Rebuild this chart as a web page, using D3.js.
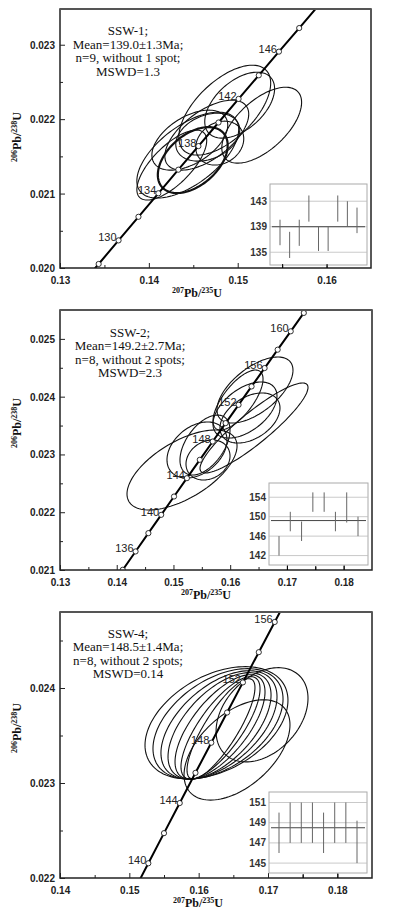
<!DOCTYPE html>
<html>
<head>
<meta charset="utf-8">
<script src="https://cdn.jsdelivr.net/npm/d3@7"></script>
<style>
  body { margin: 0; background: #fff; }
</style>
</head>
<body>
<svg id="chart" width="393" height="917"></svg>
<script>
// concordia points every 2 Ma (207Pb/235U, 206Pb/238U)
var concAges = [126,128,130,132,134,136,138,140,142,144,146,148,150,152,154,156,158,160,162,164];
var concX = [0.13212,0.13435,0.13659,0.13883,0.14107,0.14332,0.14558,0.14784,0.15010,0.15237,
             0.15464,0.15692,0.15920,0.16148,0.16377,0.16607,0.16837,0.17067,0.17298,0.17529];
var concY = [0.019738,0.020054,0.020371,0.020688,0.021004,0.021321,0.021638,0.021955,0.022272,0.022589,
             0.022907,0.023224,0.023542,0.023859,0.024177,0.024495,0.024813,0.025131,0.025449,0.025767];
// SSW-4 concordia as it sits against its own axes
var conc4Ages = [138,140,142,144,146,148,150,152,154,156,158];
var conc4X = [0.15048,0.15274,0.15500,0.15727,0.15954,0.16182,0.16410,0.16638,0.16867,0.17097,0.17327];
var conc4Y = [0.021838,0.022155,0.022472,0.022789,0.023107,0.023424,0.023742,0.024059,0.024377,0.024695,0.025013];

// labelled ages on the curve
var ageLabels1 = [130,134,138,142,146];
var ageLabels2 = [136,140,144,148,152,156,160];
var ageLabels4 = [140,144,148,152,156];

// axis ticks
var xTicks1 = [0.13,0.14,0.15,0.16], xMinor1 = [0.135,0.145,0.155];
var yTicks1 = [0.020,0.021,0.022,0.023], yMinor1 = [0.0205,0.0215,0.0225];
var xTicks2 = [0.13,0.14,0.15,0.16,0.17,0.18], xMinor2 = [0.135,0.145,0.155,0.165,0.175];
var yTicks2 = [0.021,0.022,0.023,0.024,0.025], yMinor2 = [0.0215,0.0225,0.0235,0.0245];
var xTicks4 = [0.14,0.15,0.16,0.17,0.18], xMinor4 = [0.145,0.155,0.165,0.175];
var yTicks4 = [0.022,0.023,0.024], yMinor4 = [0.0225,0.0235,0.0245];

// error ellipses: [x, y, sx, sy, rho]
var ell1 = [
  [0.14854,0.022121,0.00517,0.000604,0.60],
  [0.15022,0.022188,0.00393,0.000443,0.50],
  [0.15270,0.021919,0.00449,0.000510,0.60],
  [0.14438,0.021517,0.00573,0.000577,0.60],
  [0.14663,0.021758,0.00360,0.000322,0.30],
  [0.14798,0.021678,0.00270,0.000295,0.20],
  [0.14258,0.021383,0.00393,0.000470,0.70],
  [0.14652,0.021785,0.00472,0.000470,0.60],
  [0.14461,0.021718,0.00427,0.000403,0.50]
];
var ell1Bold = [[0.14494,0.021450,0.00393,0.000443,0.45]];
var ell2 = [
  [0.15151,0.022731,0.00970,0.000692,0.60],
  [0.15415,0.023077,0.00529,0.000485,0.35],
  [0.15556,0.023163,0.00441,0.000519,0.50],
  [0.15609,0.022904,0.00388,0.000346,0.20],
  [0.16437,0.024115,0.00670,0.000571,0.60],
  [0.16420,0.023458,0.00952,0.000779,0.90],
  [0.16261,0.023769,0.00564,0.000485,0.50],
  [0.16138,0.023942,0.00441,0.000519,0.70],
  [0.16349,0.023631,0.00529,0.000433,0.40]
];
var ell4 = [
  [0.16257,0.023634,0.01031,0.000591,0.40],
  [0.16279,0.023623,0.00938,0.000581,0.45],
  [0.16293,0.023612,0.00837,0.000570,0.52],
  [0.16301,0.023602,0.00743,0.000560,0.58],
  [0.16308,0.023591,0.00649,0.000549,0.67],
  [0.16315,0.023581,0.00570,0.000539,0.76],
  [0.16322,0.023570,0.00490,0.000528,0.82],
  [0.16914,0.023718,0.00663,0.000496,0.35],
  [0.16553,0.023348,0.00764,0.000528,0.50]
];

// weighted-mean insets: age ranges of each spot (Ma)
var bar1Lo = [136.1,134.1,136.0,139.8,135.2,135.2,139.8,139.1,138.0];
var bar1Hi = [140.1,138.2,140.1,143.9,139.1,139.1,143.9,143.0,142.0];
var bar2Lo = [142,147,145,151,151,147,148.8,146];
var bar2Hi = [146,151,149,155,155,151,155,150];
var bar4Lo = [146,147,147,147,146,147,147,145];
var bar4Hi = [150,151,151,151,150,151,151,149.2];
var insetTicks1 = [135,139,143], insetTicks2 = [142,146,150,154], insetTicks4 = [145,147,149,151];
var mean1 = 139.0, mean2 = 149.2, mean4 = 148.5;

var notes1 = ["SSW-1;", "Mean=139.0\u00b11.3Ma;", "n=9, without 1 spot;", "MSWD=1.3"];
var notes2 = ["SSW-2;", "Mean=149.2\u00b12.7Ma;", "n=8, without 2 spots;", "MSWD=2.3"];
var notes4 = ["SSW-4;", "Mean=148.5\u00b11.4Ma;", "n=8, without 2 spots;", "MSWD=0.14"];

var svg = d3.select("#chart");
var sans = "'Liberation Sans', Arial, sans-serif";
var serif = "'Liberation Serif', 'Times New Roman', serif";

function ratioTitle(sel, a, b) {
  sel.append("tspan").attr("font-size", 8).attr("dy", -4).text(a);
  sel.append("tspan").attr("font-size", 12).attr("dy", 4).text("Pb/");
  sel.append("tspan").attr("font-size", 8).attr("dy", -4).text(b);
  sel.append("tspan").attr("font-size", 12).attr("dy", 4).text("U");
}

function drawPanel(p, idx) {
  var g = svg.append("g");
  var x = d3.scaleLinear().domain(p.xDomain).range([p.left, p.right]);
  var y = d3.scaleLinear().domain(p.yDomain).range([p.bottom, p.top]);

  g.append("clipPath").attr("id", "clip" + idx)
    .append("rect").attr("x", p.left).attr("y", p.top)
    .attr("width", p.right - p.left).attr("height", p.bottom - p.top);

  // axes, ticks pointing inward
  g.append("g").attr("transform", "translate(0," + p.bottom + ")")
    .call(d3.axisBottom(x).tickValues(p.xTicks).tickSize(-5).tickPadding(9).tickFormat(d3.format(".2f")));
  g.append("g").attr("transform", "translate(0," + p.bottom + ")")
    .call(d3.axisBottom(x).tickValues(p.xMinor).tickSize(-3).tickFormat(""));
  var ya = g.append("g").attr("transform", "translate(" + p.left + ",0)")
    .call(d3.axisLeft(y).tickValues(p.yTicks).tickSize(-5).tickPadding(5).tickFormat(d3.format(".3f")));
  g.append("g").attr("transform", "translate(" + p.left + ",0)")
    .call(d3.axisLeft(y).tickValues(p.yMinor).tickSize(-3).tickFormat(""));
  g.selectAll(".domain").remove();
  g.selectAll(".tick line").attr("stroke", "#222");
  g.selectAll(".tick text").attr("font-family", sans).attr("font-weight", "bold")
    .attr("font-size", 10).attr("fill", "#222");
  ya.selectAll(".tick text").attr("dy", "0.35em");

  // ellipses
  var plot = g.append("g").attr("clip-path", "url(#clip" + idx + ")");
  var steps = d3.range(0, 2 * Math.PI, Math.PI / 60);
  var ellLine = d3.line().curve(d3.curveLinearClosed);
  function ellPath(e) {
    var k = Math.sqrt(1 - e[4] * e[4]);
    return ellLine(steps.map(function(t) {
      return [x(e[0] + e[2] * Math.cos(t)),
              y(e[1] + e[3] * (e[4] * Math.cos(t) + k * Math.sin(t)))];
    }));
  }
  plot.selectAll(".ell").data(p.ell).enter().append("path")
    .attr("d", ellPath).attr("fill", "none").attr("stroke", "#111").attr("stroke-width", 1.1);
  plot.selectAll(".ellb").data(p.ellBold).enter().append("path")
    .attr("d", ellPath).attr("fill", "none").attr("stroke", "#111").attr("stroke-width", 2.2);

  // concordia
  var pts = p.ages.map(function(a, i) { return { age: a, x: p.cx[i], y: p.cy[i] }; });
  plot.append("path").datum(pts)
    .attr("d", d3.line().x(function(d) { return x(d.x); }).y(function(d) { return y(d.y); }))
    .attr("fill", "none").attr("stroke", "#000").attr("stroke-width", 2);
  plot.selectAll(".mk").data(pts).enter().append("circle")
    .attr("cx", function(d) { return x(d.x); }).attr("cy", function(d) { return y(d.y); })
    .attr("r", 2.6).attr("fill", "#fff").attr("stroke", "#000").attr("stroke-width", 0.8);
  plot.selectAll(".al").data(pts.filter(function(d) { return p.labels.indexOf(d.age) >= 0; }))
    .enter().append("text")
    .attr("x", function(d) { return x(d.x) - 2; }).attr("y", function(d) { return y(d.y) + 1; })
    .attr("text-anchor", "end").attr("font-family", sans).attr("font-size", 11).attr("fill", "#222")
    .text(function(d) { return d.age; });

  // frame
  g.append("rect").attr("x", p.left).attr("y", p.top)
    .attr("width", p.right - p.left).attr("height", p.bottom - p.top)
    .attr("fill", "none").attr("stroke", "#222").attr("stroke-width", 1.5);
  g.append("line").attr("x1", p.left).attr("x2", p.right).attr("y1", p.top).attr("y2", p.top)
    .attr("stroke", "#555").attr("stroke-width", 2);

  // notes
  var nt = g.append("text").attr("font-family", serif).attr("font-size", 13).attr("fill", "#111")
    .attr("text-anchor", "middle");
  p.notes.forEach(function(s, i) {
    nt.append("tspan").attr("x", p.noteX).attr("y", p.noteY + i * 13.6).text(s);
  });

  // axis titles
  var xt = g.append("text").attr("x", p.xTitleX).attr("y", p.bottom + 29)
    .attr("text-anchor", "middle").attr("font-family", serif).attr("font-weight", "bold").attr("fill", "#111");
  ratioTitle(xt, "207", "235");
  var yt = g.append("text").attr("transform", "translate(21," + p.yTitleY + ") rotate(-90)")
    .attr("text-anchor", "middle").attr("font-family", serif).attr("font-weight", "bold").attr("fill", "#111");
  ratioTitle(yt, "206", "238");

  // inset with spot ages
  var iy = d3.scaleLinear().domain(p.iDomain).range([p.iBottom, p.iTop]);
  var ix = d3.scalePoint().domain(d3.range(p.lo.length)).range([p.iLeft + 10, p.iRight - 10]);
  var ins = g.append("g");
  ins.append("rect").attr("x", p.iLeft).attr("y", p.iTop)
    .attr("width", p.iRight - p.iLeft).attr("height", p.iBottom - p.iTop)
    .attr("fill", "#fff").attr("stroke", "#aaa").attr("stroke-width", 1);
  ins.selectAll(".gl").data(p.iTicks).enter().append("line")
    .attr("x1", p.iLeft).attr("x2", p.iRight)
    .attr("y1", function(d) { return iy(d); }).attr("y2", function(d) { return iy(d); })
    .attr("stroke", "#bbb").attr("stroke-width", 0.8);
  ins.selectAll(".il").data(p.iTicks).enter().append("text")
    .attr("x", p.iLeft - 3).attr("y", function(d) { return iy(d); }).attr("dy", "0.35em")
    .attr("text-anchor", "end").attr("font-family", sans).attr("font-weight", "bold")
    .attr("font-size", 10).attr("fill", "#333").text(function(d) { return d; });
  ins.append("line").attr("x1", p.iLeft + 2).attr("x2", p.iRight - 2)
    .attr("y1", iy(p.mean)).attr("y2", iy(p.mean)).attr("stroke", "#444").attr("stroke-width", 1);
  ins.selectAll(".bar").data(p.lo).enter().append("line")
    .attr("x1", function(d, i) { return ix(i); }).attr("x2", function(d, i) { return ix(i); })
    .attr("y1", function(d) { return iy(d); }).attr("y2", function(d, i) { return iy(p.hi[i]); })
    .attr("stroke", "#666").attr("stroke-width", 1);
  // main axis ticks show through the inset bottom
  g.append("g").attr("transform", "translate(0," + p.bottom + ")")
    .call(d3.axisBottom(x).tickValues(p.xTicks.concat(p.xMinor).filter(function(v) {
      return x(v) > p.iLeft && x(v) < p.iRight; })).tickSize(-4).tickFormat(""))
    .call(function(s) { s.select(".domain").remove(); });
}

drawPanel({
  left: 60, right: 371, top: 9, bottom: 268,
  xDomain: [0.13, 0.165], yDomain: [0.020, 0.02348],
  xTicks: xTicks1, xMinor: xMinor1, yTicks: yTicks1, yMinor: yMinor1,
  ell: ell1, ellBold: ell1Bold,
  ages: concAges, cx: concX, cy: concY, labels: ageLabels1,
  notes: notes1, noteX: 128, noteY: 35,
  xTitleX: 197, yTitleY: 137,
  iLeft: 270, iRight: 367, iTop: 184, iBottom: 265, iDomain: [133.0, 145.7],
  lo: bar1Lo, hi: bar1Hi, iTicks: insetTicks1, mean: mean1
}, 1);

drawPanel({
  left: 60, right: 372, top: 310, bottom: 570,
  xDomain: [0.13, 0.185], yDomain: [0.021, 0.0255],
  xTicks: xTicks2, xMinor: xMinor2, yTicks: yTicks2, yMinor: yMinor2,
  ell: ell2, ellBold: [],
  ages: concAges, cx: concX, cy: concY, labels: ageLabels2,
  notes: notes2, noteX: 130, noteY: 336.5,
  xTitleX: 206, yTitleY: 423,
  iLeft: 269, iRight: 368, iTop: 483, iBottom: 565, iDomain: [140.06, 156.93],
  lo: bar2Lo, hi: bar2Hi, iTicks: insetTicks2, mean: mean2
}, 2);

drawPanel({
  left: 60, right: 372, top: 612, bottom: 878,
  xDomain: [0.14, 0.185], yDomain: [0.022, 0.0248],
  xTicks: xTicks4, xMinor: xMinor4, yTicks: yTicks4, yMinor: yMinor4,
  ell: ell4, ellBold: [],
  ages: conc4Ages, cx: conc4X, cy: conc4Y, labels: ageLabels4,
  notes: notes4, noteX: 128, noteY: 637.5,
  xTitleX: 198, yTitleY: 728,
  iLeft: 269, iRight: 367, iTop: 792, iBottom: 873, iDomain: [144.02, 152.04],
  lo: bar4Lo, hi: bar4Hi, iTicks: insetTicks4, mean: mean4
}, 4);
</script>
</body>
</html>
